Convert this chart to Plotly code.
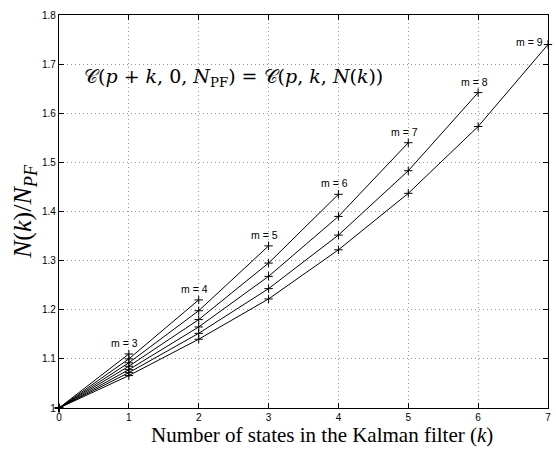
import plotly.graph_objects as go

k_vals = [0, 1, 2, 3, 4, 5, 6, 7]
m_vals = [3, 4, 5, 6, 7, 8, 9]
ratios = {
    3: [1.0, 1.110],
    4: [1.0, 1.100, 1.220],
    5: [1.0, 1.092, 1.198, 1.330],
    6: [1.0, 1.085, 1.180, 1.295, 1.435],
    7: [1.0, 1.078, 1.165, 1.268, 1.390, 1.540],
    8: [1.0, 1.072, 1.152, 1.243, 1.352, 1.483, 1.642],
    9: [1.0, 1.066, 1.140, 1.222, 1.322, 1.437, 1.573, 1.740],
}
x_ticks = [0, 1, 2, 3, 4, 5, 6, 7]
y_ticks = [1.0, 1.1, 1.2, 1.3, 1.4, 1.5, 1.6, 1.7, 1.8]
y_ticklabels = ["1", "1.1", "1.2", "1.3", "1.4", "1.5", "1.6", "1.7", "1.8"]

fig = go.Figure()
for m in m_vals:
    ys = ratios[m]
    xs = k_vals[:len(ys)]
    fig.add_trace(go.Scatter(
        x=xs, y=ys, mode="lines+markers",
        line=dict(color="black", width=1),
        marker=dict(symbol="cross-thin", size=6, line=dict(color="black", width=1)),
        showlegend=False, cliponaxis=False,
    ))
    xe, ye = xs[-1], ys[-1]
    if m == 9:
        fig.add_annotation(x=xe, y=ye, text="m = 9", showarrow=False,
                           xanchor="right", yanchor="middle", xshift=-3, yshift=2,
                           font=dict(family="Liberation Sans, Arial", size=10.5, color="black"))
    else:
        fig.add_annotation(x=xe, y=ye, text=f"m = {m}", showarrow=False,
                           xanchor="center", yanchor="bottom", xshift=-4, yshift=3,
                           font=dict(family="Liberation Sans, Arial", size=10.5, color="black"))

fig.add_annotation(
    x=0.33, y=1.673, xanchor="left", yanchor="middle", showarrow=False,
    text="𝒞(<i>p</i> + <i>k</i>, 0, <i>N</i><sub>PF</sub>) = 𝒞(<i>p</i>, <i>k</i>, <i>N</i>(<i>k</i>))",
    font=dict(family="DejaVu Serif, Liberation Serif, serif", size=19, color="black"),
)

fig.add_annotation(
    x=0.5, y=0, xref="paper", yref="paper", xanchor="center", yanchor="top",
    xshift=18, yshift=-13, showarrow=False,
    text="Number of states in the Kalman filter (<i>k</i>)",
    font=dict(family="Liberation Serif, Times New Roman, serif", size=21, color="black"),
)

axis_common = dict(
    showline=True, linecolor="black", linewidth=1.2, mirror="ticks",
    ticks="inside", ticklen=5, tickcolor="black",
    showgrid=True, gridcolor="#999999", griddash="1px,3px", gridwidth=1,
    zeroline=False,
    tickfont=dict(family="Liberation Sans, Arial", size=10, color="black"),
)
fig.update_xaxes(range=[0, 7], tickvals=x_ticks, **axis_common)
fig.update_yaxes(range=[1, 1.8], tickvals=y_ticks, ticktext=y_ticklabels,
                 title=dict(text="<i>N</i>(<i>k</i>)/<i>N</i><sub><i>PF</i></sub>",
                            font=dict(family="Liberation Serif, Times New Roman, serif", size=26, color="black"),
                            standoff=2),
                 **axis_common)
fig.update_layout(
    width=556, height=449,
    margin=dict(l=59, r=5, t=15, b=41),
    plot_bgcolor="white", paper_bgcolor="white",
)
fig.write_html("out.html", config={"displayModeBar": False},
               post_script="document.body.style.margin='0';")
